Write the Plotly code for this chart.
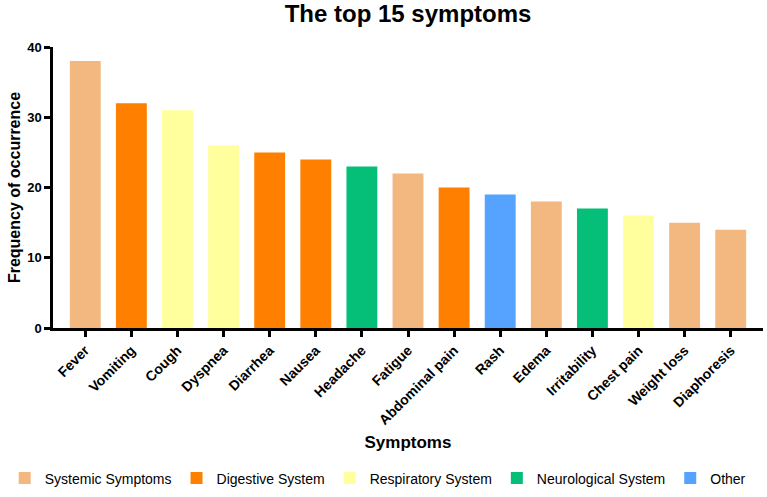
import plotly.graph_objects as go

symptoms = ["Fever", "Vomiting", "Cough", "Dyspnea", "Diarrhea", "Nausea", "Headache",
            "Fatigue", "Abdominal pain", "Rash", "Edema", "Irritability", "Chest pain",
            "Weight loss", "Diaphoresis"]
frequency = [38, 32, 31, 26, 25, 24, 23, 22, 20, 19, 18, 17, 16, 15, 14]
group = ["Systemic Symptoms", "Digestive System", "Respiratory System", "Respiratory System",
         "Digestive System", "Digestive System", "Neurological System", "Systemic Symptoms",
         "Digestive System", "Other", "Systemic Symptoms", "Neurological System",
         "Respiratory System", "Systemic Symptoms", "Systemic Symptoms"]
group_order = ["Systemic Symptoms", "Digestive System", "Respiratory System",
               "Neurological System", "Other"]
group_colors = ["#F2B880", "#FF8000", "#FFFF9E", "#05BE78", "#55A3FF"]

FONT = "Liberation Sans, Arial, sans-serif"

fig = go.Figure()
for g, c in zip(group_order, group_colors):
    xs = [s for s, gg in zip(symptoms, group) if gg == g]
    ys = [v for v, gg in zip(frequency, group) if gg == g]
    fig.add_trace(go.Bar(x=xs, y=ys, name=g, marker=dict(color=c, line=dict(width=0))))

fig.update_layout(
    width=767, height=497,
    barmode="relative", bargap=0.33,
    plot_bgcolor="white", paper_bgcolor="white",
    margin=dict(l=53, r=4, t=47, b=168),
    font=dict(family=FONT, color="black"),
    title=dict(text="<b>The top 15 symptoms</b>", x=0.532, xref="container", xanchor="center",
               y=0.972, yref="container", yanchor="middle", font=dict(size=24, family=FONT)),
    legend=dict(orientation="h", xref="paper", yref="paper",
                x=-0.068, xanchor="left", y=-0.53, yanchor="middle",
                font=dict(size=14, family=FONT), traceorder="normal", itemwidth=30,
                tracegroupgap=0, borderwidth=0),
    xaxis=dict(categoryorder="array", categoryarray=symptoms, range=[-0.7, 14.7],
               showline=True, linecolor="black", linewidth=2.5,
               ticks="outside", ticklen=6, tickwidth=2.5, tickcolor="black",
               tickangle=-45, tickfont=dict(size=14, family=FONT, weight="bold"),
               title=dict(text="<b>Symptoms</b>", font=dict(size=17, family=FONT), standoff=10),
               showgrid=False, zeroline=False, automargin=False),
    yaxis=dict(range=[0, 40], tickvals=[0, 10, 20, 30, 40],
               showline=True, linecolor="black", linewidth=2.5,
               ticks="outside", ticklen=6, tickwidth=2.5, tickcolor="black",
               tickfont=dict(size=13, family=FONT, weight="bold"),
               title=dict(text="<b>Frequency of occurrence</b>", font=dict(size=16, family=FONT), standoff=3),
               showgrid=False, zeroline=False, automargin=False),
)

fig.write_html("out.html")
